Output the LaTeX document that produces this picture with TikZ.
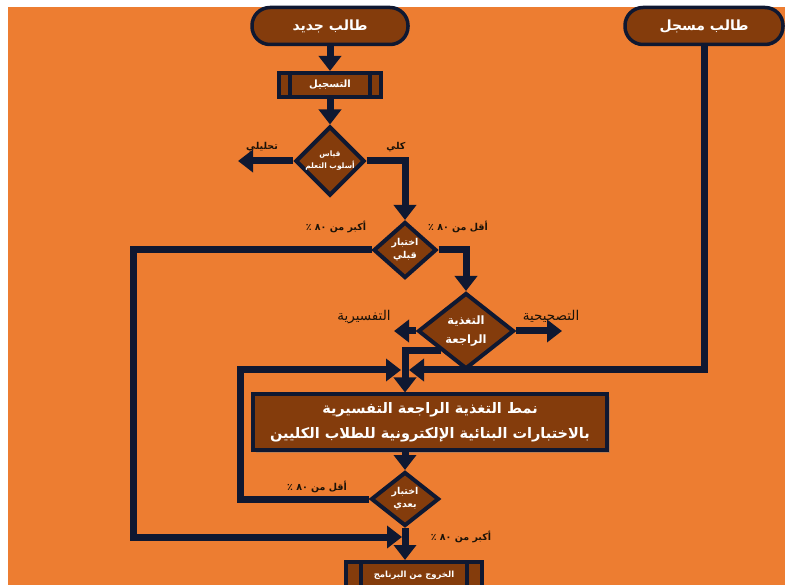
\documentclass[tikz,border=0pt]{standalone}
\usepackage{fontspec}
\usetikzlibrary{shapes.geometric,arrows.meta,shadows}
\TeXXeTstate=1
\newfontfamily\arabicfont[Script=Arabic]{DejaVu Sans}
\definecolor{mikan}{HTML}{ED7D31}
\definecolor{kogecha}{HTML}{843C0C}
\definecolor{yoru}{HTML}{0F1831}
\definecolor{sumi}{HTML}{1A1208}

\begin{document}
\begin{tikzpicture}[x=1pt, y=-1pt,
    pill/.style={rectangle, rounded corners=18pt, minimum width=156pt, minimum height=37pt,
        fill=kogecha, draw=yoru, line width=3.5pt, text=white,
        font=\arabicfont\bfseries\fontsize{14}{16}\selectfont,
        drop shadow={opacity=0.35, shadow xshift=1.5pt, shadow yshift=-1.5pt}},
    proc/.style={rectangle, fill=kogecha, draw=yoru, line width=4pt, text=white, inner sep=0pt,
        font=\arabicfont\bfseries\fontsize{10}{12}\selectfont},
    decide/.style={diamond, fill=kogecha, draw=yoru, line width=4pt, text=white, inner sep=0pt,
        align=center, font=\arabicfont\bfseries\fontsize{9.5}{13}\selectfont,
        drop shadow={opacity=0.3, shadow xshift=1.5pt, shadow yshift=-1.5pt}},
    line/.style={draw=yoru, line width=7pt},
    arr/.style={line, -{Triangle[length=15pt, width=22pt]}},
    lbl/.style={text=sumi, inner sep=0pt, font=\arabicfont\bfseries\fontsize{9.5}{11}\selectfont},
    biglbl/.style={text=sumi, inner sep=0pt, font=\arabicfont\fontsize{13.5}{15}\selectfont}]

    \fill[white] (0, 0) rectangle (785, 585);
    \useasboundingbox (0, 0) rectangle (785, 585);
    \clip (0, 0) rectangle (785, 585);
    \fill[mikan] (8, 7) rectangle (785, 585);

    \node[pill] (New) at (330, 26) {\beginR طالب جديد\endR};
    \node[pill, minimum width=158pt] (Old) at (704, 26) {\beginR طالب مسجل\endR};
    \node[proc, minimum width=102pt, minimum height=24pt] (Reg) at (330, 85) {\beginR التسجيل\endR};
    \node[decide, minimum width=65pt, minimum height=58pt, font=\arabicfont\bfseries\fontsize{7.5}{12}\selectfont]
        (Style) at (330, 161) {\beginR قياس\endR\\\beginR أسلوب التعلم\endR};
    \node[decide, minimum width=63pt, minimum height=56pt] (Pre) at (405, 250)
        {\beginR اختبار\endR\\\beginR قبلي\endR};
    \node[decide, minimum width=96pt, minimum height=76pt, font=\arabicfont\bfseries\fontsize{11.5}{19}\selectfont]
        (Feed) at (466, 331) {\beginR التغذية\endR\\\beginR الراجعة\endR};
    \node[proc, minimum width=354pt, minimum height=55pt, align=center,
        font=\arabicfont\bfseries\fontsize{14.5}{25}\selectfont,
        drop shadow={opacity=0.45, shadow xshift=3pt, shadow yshift=-3pt}] (Mode) at (430, 422)
        {\beginR نمط التغذية الراجعة التفسيرية\endR\\\beginR بالاختبارات البنائية الإلكترونية للطلاب الكليين\endR};
    \node[decide, minimum width=68pt, minimum height=54pt] (Post) at (405, 499)
        {\beginR اختبار\endR\\\beginR بعدي\endR};
    \node[proc, minimum width=136pt, minimum height=26pt, font=\arabicfont\bfseries\fontsize{8.5}{10}\selectfont]
        (Exit) at (414, 575) {\beginR الخروج من البرنامج\endR};

    \foreach \n / \d in {Reg/13, Exit/17} {
        \draw[draw=yoru, line width=4pt] ([xshift=\d pt]\n.north west) -- ([xshift=\d pt]\n.south west);
        \draw[draw=yoru, line width=4pt] ([xshift=-\d pt]\n.north east) -- ([xshift=-\d pt]\n.south east);
    }

    \coordinate (AnaEnd) at (238, 161);
    \coordinate (CorEnd) at (562, 331);
    \coordinate (J) at (405, 370);
    \coordinate (K) at (405, 537);

    \draw[arr] (New) -- (Reg);
    \draw[arr] (Reg) -- (Style);
    \draw[arr] (Style.west) -- (AnaEnd);
    \draw[arr] (Style.east) -| (Pre.north);
    \draw[arr] (Pre.east) -| (Feed.north);
    \draw[arr] (Pre.west) -| (133, 537) -- ([xshift=-3pt]K);
    \draw[arr] (Feed.east) -- (CorEnd);
    \draw[arr] (Feed.west) -- ++(-22, 0);
    \draw[arr] (Feed.south west) -| (Mode.north -| Post.north);
    \draw[arr] (Old.south) |- ([xshift=4pt]J);
    \draw[arr] (Post.west) -| (240, 370) -- ([xshift=-4pt]J);
    \draw[arr] (Mode.south -| Post.north) -- (Post.north);
    \draw[arr] (Post.south) -- (Exit.north -| Post.south);

    \node[lbl] (Ana) at (262, 147) {\beginR تحليلي\endR};
    \node[lbl] (Kul) at (396, 147) {\beginR كلي\endR};
    \foreach \x / \y / \t in {336/227/أكبر, 458/227/أقل, 317/487/أقل, 461/537/أكبر}
        \node[lbl] at (\x, \y) {\beginR \t{} من ٨٠ ٪\endR};
    \node[biglbl] (Tafs) at (364, 317) {\beginR التفسيرية\endR};
    \node[biglbl] (Tash) at (551, 316) {\beginR التصحيحية\endR};

\end{tikzpicture}
\end{document}
